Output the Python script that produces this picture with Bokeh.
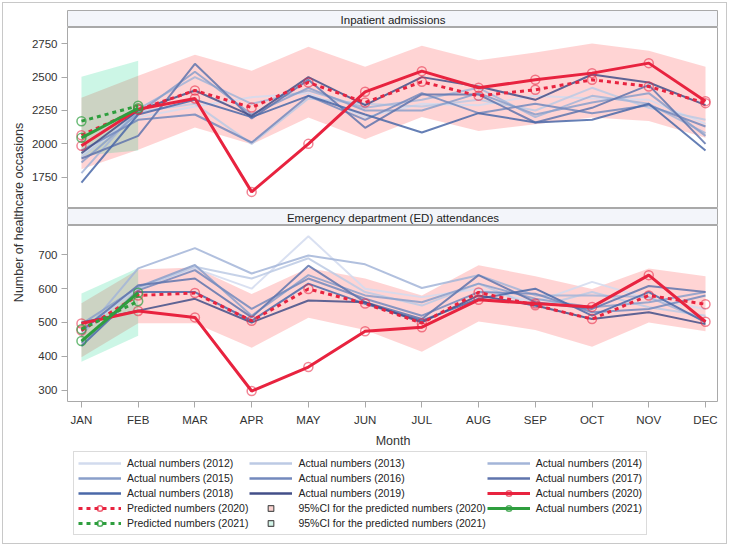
import math
from bokeh.plotting import figure
from bokeh.models import Range1d, FixedTicker, Legend, LegendItem
from bokeh.layouts import column, row
from bokeh.embed import file_html
from bokeh.resources import INLINE
from bokeh.core.properties import value

months = ["JAN", "FEB", "MAR", "APR", "MAY", "JUN", "JUL", "AUG", "SEP", "OCT", "NOV", "DEC"]
years_hist = ["2012", "2013", "2014", "2015", "2016", "2017", "2018", "2019"]

# Inpatient admissions
ip_2012 = [1920, 2200, 2280, 2350, 2380, 2200, 2300, 2290, 2360, 2340, 2330, 2150]
ip_2013 = [1900, 2240, 2300, 2000, 2340, 2300, 2280, 2330, 2250, 2420, 2270, 2180]
ip_2014 = [1780, 2260, 2500, 2300, 2400, 2270, 2330, 2420, 2200, 2360, 2300, 2080]
ip_2015 = [1860, 2230, 2540, 2220, 2420, 2250, 2250, 2380, 2220, 2310, 2380, 2060]
ip_2016 = [1950, 2180, 2220, 2010, 2360, 2180, 2380, 2230, 2300, 2230, 2290, 2130]
ip_2017 = [1890, 2060, 2600, 2190, 2480, 2120, 2370, 2370, 2160, 2270, 2440, 2000]
ip_2018 = [1710, 2220, 2330, 2200, 2360, 2220, 2085, 2230, 2160, 2180, 2300, 1950]
ip_2019 = [1930, 2250, 2400, 2210, 2500, 2290, 2500, 2430, 2330, 2520, 2460, 2290]
ip_2020 = [1985, 2260, 2340, 1640, 2000, 2390, 2545, 2420, 2480, 2530, 2605, 2320]
ip_pred_2020 = [2065, 2255, 2400, 2272, 2460, 2310, 2465, 2360, 2405, 2480, 2430, 2305]
ip_ci20_lo = [1810, 1955, 2122, 1997, 2197, 2035, 2202, 2097, 2147, 2197, 2172, 2045]
ip_ci20_hi = [2345, 2510, 2667, 2547, 2727, 2577, 2735, 2627, 2685, 2752, 2697, 2577]
ip_2021 = [2045, 2267]
ip_pred_2021 = [2170, 2285]
ip_ci21_lo = [1910, 1950]
ip_ci21_hi = [2502, 2622]

# Emergency department attendances
ed_2012 = [470, 605, 660, 600, 755, 600, 575, 600, 560, 620, 570, 540]
ed_2013 = [480, 600, 665, 630, 690, 590, 550, 615, 545, 590, 545, 520]
ed_2014 = [460, 660, 720, 645, 698, 672, 602, 640, 580, 580, 575, 505]
ed_2015 = [495, 605, 670, 520, 640, 580, 560, 615, 570, 545, 560, 590]
ed_2016 = [440, 595, 655, 540, 630, 570, 520, 590, 585, 530, 540, 580]
ed_2017 = [475, 610, 630, 515, 668, 560, 510, 640, 560, 540, 608, 590]
ed_2018 = [430, 590, 590, 505, 615, 555, 505, 570, 600, 520, 590, 500]
ed_2019 = [500, 535, 570, 500, 565, 560, 500, 580, 550, 510, 530, 495]
ed_2020 = [497, 534, 515, 297, 368, 474, 486, 567, 556, 546, 640, 502]
ed_pred_2020 = [476, 580, 587, 505, 599, 556, 498, 589, 551, 510, 580, 554]
ed_ci20_lo = [397, 498, 498, 425, 514, 478, 413, 503, 478, 428, 500, 474]
ed_ci20_hi = [557, 657, 663, 584, 661, 630, 580, 669, 637, 599, 660, 637]
ed_2021 = [445, 588]
ed_pred_2021 = [480, 563]
ed_ci21_lo = [384, 461]
ed_ci21_hi = [586, 661]

ip_ticks = [1750, 2000, 2250, 2500, 2750]
ed_ticks = [300, 400, 500, 600, 700]

hist_colors = ["#d2dbee", "#bccae4", "#a3b5d8", "#8a9fca", "#7389bd", "#5f74ad", "#4a68a8", "#434f88"]
RED = "#e8233f"
GREEN = "#2e9e3e"
PINK_BAND = "#ff6666"
GREEN_BAND = "#00d080"
FONT = "Liberation Sans"
TXT = "#333333"
FRAME = "#a9a9a9"

x_idx = list(range(12))
XS, XE = -0.246, 11.229

W_LABEL = 28
W_PANEL = 690
MB_LEFT = 39


def strip(title, height, top):
    s = figure(width=W_PANEL, height=height, x_range=Range1d(0, 1), y_range=Range1d(0, 1),
               output_backend="svg", toolbar_location=None, x_axis_type=None, y_axis_type=None,
               min_border_left=MB_LEFT, min_border_right=0, min_border_top=top, min_border_bottom=0)
    s.background_fill_color = "#f3f5fa"
    s.border_fill_color = None
    s.outline_line_color = FRAME
    s.grid.visible = False
    s.text(x=[0.5], y=[0.45], text=[title], text_align="center", text_baseline="middle",
           text_font=value(FONT), text_font_size="11.5px", text_color="#222222")
    return s


def panel(height, yr, ticks, hist, act20, pred20, lo20, hi20, act21, pred21, lo21, hi21, bottom):
    p = figure(width=W_PANEL, height=height, x_range=Range1d(XS, XE), y_range=Range1d(*yr),
               output_backend="svg", toolbar_location=None,
               min_border_left=MB_LEFT, min_border_right=0, min_border_top=0,
               min_border_bottom=45 if bottom else 1)
    p.grid.visible = False
    p.outline_line_color = FRAME
    p.background_fill_color = "white"
    p.border_fill_color = None
    p.varea(x=x_idx, y1=lo20, y2=hi20, fill_color=PINK_BAND, fill_alpha=0.28)
    p.varea(x=x_idx[:2], y1=lo21, y2=hi21, fill_color=GREEN_BAND, fill_alpha=0.2)
    for ys, c in zip(hist, hist_colors):
        p.line(x_idx, ys, line_color=c, line_width=2, line_alpha=0.85)
    p.line(x_idx, pred20, line_color=RED, line_width=3, line_dash="4 4")
    p.scatter(x_idx, pred20, marker="circle", size=9, fill_color=None, line_color=RED, line_alpha=0.55, line_width=1.5)
    p.line(x_idx, act20, line_color=RED, line_width=3)
    p.scatter(x_idx, act20, marker="circle", size=9, fill_color=None, line_color=RED, line_alpha=0.55, line_width=1.5)
    p.line(x_idx[:2], pred21, line_color=GREEN, line_width=3, line_dash="4 4")
    p.scatter(x_idx[:2], pred21, marker="circle", size=9, fill_color=None, line_color=GREEN, line_alpha=0.7, line_width=1.5)
    p.line(x_idx[:2], act21, line_color=GREEN, line_width=3)
    p.scatter(x_idx[:2], act21, marker="circle", size=9, fill_color=None, line_color=GREEN, line_alpha=0.7, line_width=1.5)

    p.yaxis.ticker = FixedTicker(ticks=ticks)
    p.yaxis.axis_line_color = None
    p.yaxis.major_tick_line_color = FRAME
    p.yaxis.major_tick_out = 6
    p.yaxis.major_tick_in = 0
    p.yaxis.minor_tick_line_color = None
    p.yaxis.major_label_standoff = 4
    p.yaxis.major_label_text_font = FONT
    p.yaxis.major_label_text_font_size = "11.5px"
    p.yaxis.major_label_text_color = TXT
    if bottom:
        p.xaxis.ticker = FixedTicker(ticks=x_idx)
        p.xaxis.major_label_overrides = {i: m for i, m in enumerate(months)}
        p.xaxis.axis_line_color = None
        p.xaxis.major_tick_line_color = FRAME
        p.xaxis.major_tick_out = 6
        p.xaxis.major_tick_in = 0
        p.xaxis.minor_tick_line_color = None
        p.xaxis.major_label_standoff = 6
        p.xaxis.major_label_text_font = FONT
        p.xaxis.major_label_text_font_size = "11.5px"
        p.xaxis.major_label_text_color = TXT
        p.xaxis.axis_label = "Month"
        p.xaxis.axis_label_text_font = FONT
        p.xaxis.axis_label_text_font_size = "12.5px"
        p.xaxis.axis_label_text_font_style = "normal"
        p.xaxis.axis_label_text_color = TXT
        p.xaxis.axis_label_standoff = 5
    else:
        p.xaxis.visible = False
    return p


s1 = strip("Inpatient admissions", 27, 10)
p1 = panel(181, (1523, 2872), ip_ticks,
           [ip_2012, ip_2013, ip_2014, ip_2015, ip_2016, ip_2017, ip_2018, ip_2019],
           ip_2020, ip_pred_2020, ip_ci20_lo, ip_ci20_hi, ip_2021, ip_pred_2021, ip_ci21_lo, ip_ci21_hi, False)
s2 = strip("Emergency department (ED) attendances", 17, 0)
p2 = panel(225, (266, 787), ed_ticks,
           [ed_2012, ed_2013, ed_2014, ed_2015, ed_2016, ed_2017, ed_2018, ed_2019],
           ed_2020, ed_pred_2020, ed_ci20_lo, ed_ci20_hi, ed_2021, ed_pred_2021, ed_ci21_lo, ed_ci21_hi, True)

total_h = 27 + 181 + 17 + 225
lab = figure(width=W_LABEL, height=total_h, x_range=Range1d(0, W_LABEL), y_range=Range1d(total_h, 0),
             output_backend="svg", toolbar_location=None, x_axis_type=None, y_axis_type=None,
             min_border=0)
lab.outline_line_color = None
lab.border_fill_color = None
lab.background_fill_color = None
lab.grid.visible = False
lab.text(x=[18], y=[212], text=["Number of healthcare occasions"], angle=math.pi / 2,
         text_align="center", text_baseline="middle", text_font=value(FONT),
         text_font_size="12.5px", text_color=TXT)

# Legend figure
lf = figure(width=729, height=96, x_range=Range1d(0, 1), y_range=Range1d(0, 1),
            output_backend="svg", toolbar_location=None, x_axis_type=None, y_axis_type=None,
            min_border=0)
lf.outline_line_color = None
lf.border_fill_color = None
lf.background_fill_color = None
lf.grid.visible = False

items = {}
for yr, c in zip(years_hist, hist_colors):
    r = lf.line([-5, -4], [-5, -4], line_color=c, line_width=2.5)
    items[yr] = LegendItem(label="Actual numbers (%s)" % yr, renderers=[r])
ra = lf.line([-5, -4], [-5, -4], line_color=RED, line_width=3)
rs = lf.scatter([-5], [-5], marker="circle", size=12, fill_color=None, line_color=RED, line_alpha=0.7, line_width=1.5)
items["a20"] = LegendItem(label="Actual numbers (2020)", renderers=[ra, rs])
ra = lf.line([-5, -4], [-5, -4], line_color=GREEN, line_width=3)
rs = lf.scatter([-5], [-5], marker="circle", size=12, fill_color=None, line_color=GREEN, line_alpha=0.8, line_width=1.5)
items["a21"] = LegendItem(label="Actual numbers (2021)", renderers=[ra, rs])
ra = lf.line([-5, -4], [-5, -4], line_color=RED, line_width=3, line_dash="4 4")
rs = lf.scatter([-5], [-5], marker="circle", size=12, fill_color=None, line_color=RED, line_alpha=0.7, line_width=1.5)
items["p20"] = LegendItem(label="Predicted numbers (2020)", renderers=[ra, rs])
ra = lf.line([-5, -4], [-5, -4], line_color=GREEN, line_width=3, line_dash="4 4")
rs = lf.scatter([-5], [-5], marker="circle", size=12, fill_color=None, line_color=GREEN, line_alpha=0.8, line_width=1.5)
items["p21"] = LegendItem(label="Predicted numbers (2021)", renderers=[ra, rs])
rs = lf.scatter([-5], [-5], marker="square", size=9, fill_color="#fbd3d0", line_color="#555555", line_width=1.2)
items["c20"] = LegendItem(label="95%CI for the predicted numbers (2020)", renderers=[rs])
rs = lf.scatter([-5], [-5], marker="square", size=9, fill_color="#d3f5e9", line_color="#555555", line_width=1.2)
items["c21"] = LegendItem(label="95%CI for the predicted numbers (2021)", renderers=[rs])

order = ["2012", "2015", "2018", "p20", "p21",
         "2013", "2016", "2019", "c20", "c21",
         "2014", "2017", "a20", "a21"]
legend = Legend(items=[items[k] for k in order], location=(73, 11), orientation="vertical", ncols=3,
                glyph_width=43, glyph_height=14, label_height=14, label_standoff=6,
                spacing=1, padding=4, margin=0,
                label_text_font=FONT, label_text_font_size="10.5px", label_text_color="#222222",
                border_line_color="#b8b8b8", background_fill_color="white")
lf.add_layout(legend)

layout = column(row(lab, column(s1, p1, s2, p2)), lf,
                styles={"box-shadow": "inset 0 0 0 2px #ffffff, inset 0 0 0 3px #c8c8c8"})

open("out.html", "w").write(file_html(layout, INLINE))
